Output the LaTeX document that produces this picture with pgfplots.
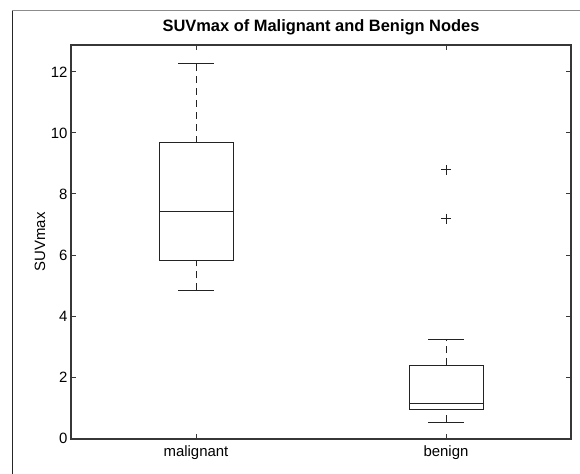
\documentclass[border=0pt]{standalone}
\usepackage{pgfplots}
\pgfplotsset{compat=1.18}
\usepgfplotslibrary{statistics}
\usepackage{fontspec}
\setmainfont{Liberation Sans}

\definecolor{boxline}{RGB}{35,35,35}
\definecolor{axline}{RGB}{55,55,55}

\pgfplotsset{
  matlabbox/.style={
    boxline, solid, line width=1bp,
    mark=+, mark size=5bp, mark options={solid, line width=1bp, boxline},
    boxplot/draw direction=y,
    boxplot/box extend=0.296,
    boxplot/whisker extend=0.144,
    boxplot/draw/lower whisker/.code={
      \draw[dash pattern=on 7bp off 5bp]
        (boxplot box cs:\pgfplotsboxplotvalue{lower whisker},0.5) --
        (boxplot box cs:\pgfplotsboxplotvalue{lower quartile},0.5);
      \draw (boxplot whisker cs:\pgfplotsboxplotvalue{lower whisker},0) --
        (boxplot whisker cs:\pgfplotsboxplotvalue{lower whisker},1);
    },
    boxplot/draw/upper whisker/.code={
      \draw[dash pattern=on 7bp off 5bp]
        (boxplot box cs:\pgfplotsboxplotvalue{upper quartile},0.5) --
        (boxplot box cs:\pgfplotsboxplotvalue{upper whisker},0.5);
      \draw (boxplot whisker cs:\pgfplotsboxplotvalue{upper whisker},0) --
        (boxplot whisker cs:\pgfplotsboxplotvalue{upper whisker},1);
    },
  },
}

\begin{document}
\begin{tikzpicture}
  \useasboundingbox (0,0) rectangle (580bp,474bp);
  % outer frame of the figure window
  \draw[black!45, line width=1bp] (12bp,463bp) -- (580bp,463bp);
  \draw[black!85, line width=1bp] (12bp,0) -- (12bp,463bp);

  \begin{axis}[
      at={(71bp,35bp)}, anchor=south west,
      scale only axis,
      width=500bp, height=394bp,
      xmin=0.5, xmax=2.5,
      ymin=-0.03, ymax=12.88,
      xtick={1,2},
      xticklabels={malignant, benign},
      ytick={0,2,4,6,8,10,12},
      tick align=inside,
      tick pos=both,
      major tick length=5bp,
      axis line style={axline, line width=1.1bp},
      tick style={axline, line width=0.9bp},
      ticklabel style={font=\fontsize{15}{18}\selectfont},
      xticklabel style={yshift=-3bp},
      ylabel={SUVmax},
      ylabel style={font=\fontsize{15}{18}\selectfont, at={(axis description cs:-0.062,0.5)}, anchor=center},
      title={SUVmax of Malignant and Benign Nodes},
      title style={font=\fontsize{16.5}{20}\selectfont\bfseries, at={(axis description cs:0.5,1)}, anchor=base, yshift=8bp},
      /pgf/number format/assume math mode=true,
    ]
    \addplot[matlabbox, boxplot prepared={
        draw position=1,
        lower whisker=4.84, lower quartile=5.82,
        median=7.42,
        upper quartile=9.67, upper whisker=12.29}]
      coordinates {};
    \addplot[matlabbox, boxplot prepared={
        draw position=2,
        lower whisker=0.52, lower quartile=0.95,
        median=1.14,
        upper quartile=2.39, upper whisker=3.24}]
      coordinates {(0,8.79) (0,7.19)};
  \end{axis}
\end{tikzpicture}
\end{document}
